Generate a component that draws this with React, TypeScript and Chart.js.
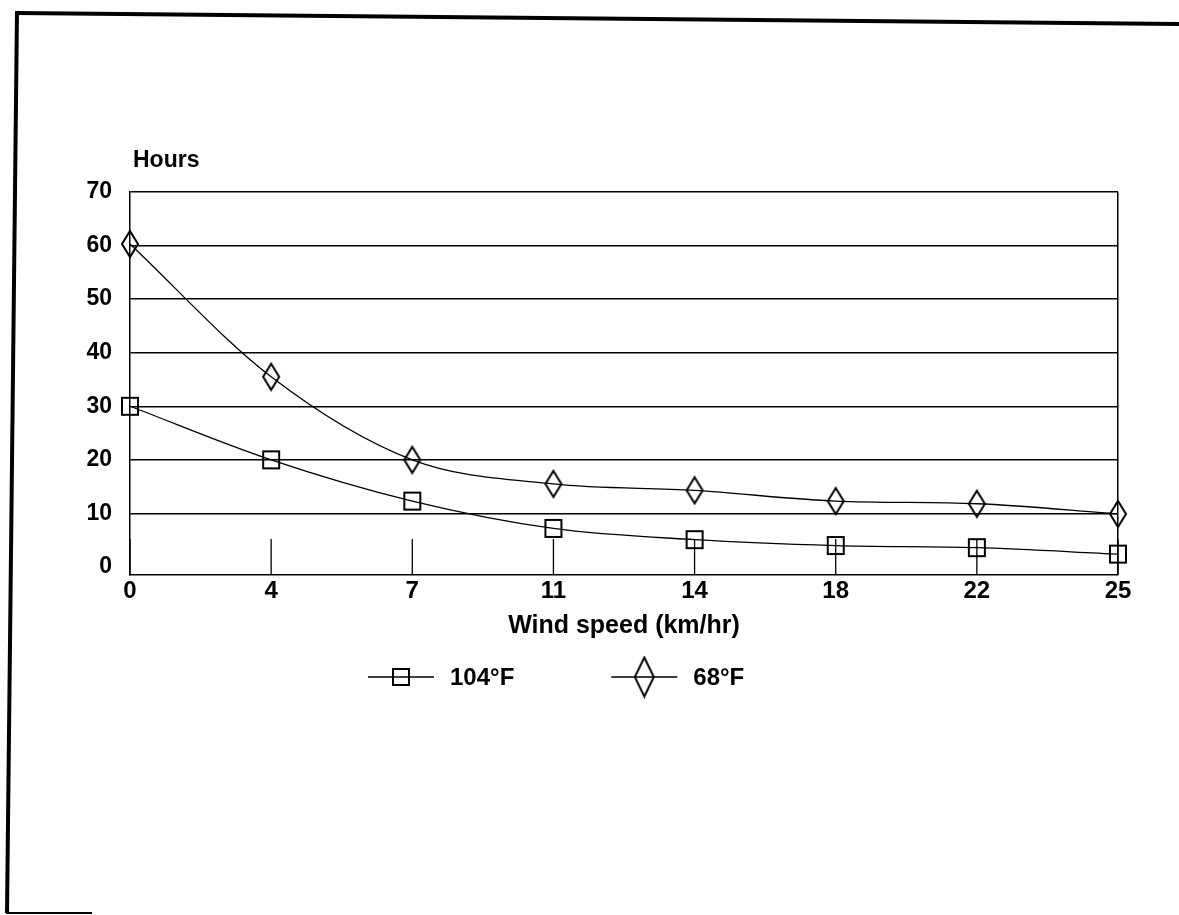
import React, { useEffect, useRef } from 'react';
import { Chart, registerables } from 'chart.js';

Chart.register(...registerables);

// ---- data ----
const windSpeedLabels = ['0', '4', '7', '11', '14', '18', '22', '25'];
const hours104F = [30, 20, 12.3, 7.2, 5.1, 4.0, 3.6, 2.4];
const hours68F = [60.3, 35.5, 20, 15.5, 14.3, 12.3, 11.8, 9.9];
const yTickValues = [0, 10, 20, 30, 40, 50, 60, 70];
const seriesNames = ['104°F', '68°F'];
const xAxisTitle = 'Wind speed (km/hr)';
const yAxisTitle = 'Hours';

const FONT = '"Liberation Sans", Arial, Helvetica, sans-serif';

function diamondImage(w: number, h: number, lw: number): HTMLCanvasElement {
  const c = document.createElement('canvas');
  c.width = Math.ceil(w + lw * 2);
  c.height = Math.ceil(h + lw * 2);
  const g = c.getContext('2d')!;
  const cx = c.width / 2;
  const cy = c.height / 2;
  g.strokeStyle = '#000';
  g.lineWidth = lw;
  g.beginPath();
  g.moveTo(cx, cy - h / 2);
  g.lineTo(cx + w / 2, cy);
  g.lineTo(cx, cy + h / 2);
  g.lineTo(cx - w / 2, cy);
  g.closePath();
  g.stroke();
  return c;
}

function squareImage(w: number, h: number, lw: number): HTMLCanvasElement {
  const c = document.createElement('canvas');
  c.width = Math.ceil(w + lw * 2);
  c.height = Math.ceil(h + lw * 2);
  const g = c.getContext('2d')!;
  g.strokeStyle = '#000';
  g.lineWidth = lw;
  g.strokeRect((c.width - w) / 2, (c.height - h) / 2, w, h);
  return c;
}

export default function App() {
  const canvasRef = useRef<HTMLCanvasElement | null>(null);

  useEffect(() => {
    const canvas = canvasRef.current;
    if (!canvas) return;

    const plotSquare = squareImage(16, 17, 2);
    const plotDiamond = diamondImage(16, 26, 2);
    const legendMarkers = [squareImage(16, 16, 2), diamondImage(19, 39, 2)];

    const scanFrame = {
      id: 'scanFrame',
      afterDraw(chart: any) {
        const ctx = chart.ctx;
        ctx.save();
        ctx.strokeStyle = '#000';
        ctx.lineWidth = 4;
        ctx.beginPath();
        ctx.moveTo(16, 13);
        ctx.lineTo(1179, 24);
        ctx.stroke();
        ctx.beginPath();
        ctx.moveTo(17, 11);
        ctx.lineTo(7, 913);
        ctx.stroke();
        ctx.lineWidth = 2;
        ctx.beginPath();
        ctx.moveTo(6, 913);
        ctx.lineTo(92, 913);
        ctx.stroke();
        ctx.restore();
      },
    };

    const innerTicks = {
      id: 'innerTicks',
      beforeDatasetsDraw(chart: any) {
        const ctx = chart.ctx;
        const xs = chart.scales.x;
        const bottom = chart.chartArea.bottom;
        ctx.save();
        ctx.strokeStyle = '#000';
        ctx.lineWidth = 1.3;
        ctx.beginPath();
        windSpeedLabels.forEach((_, i) => {
          const px = xs.getPixelForValue(i);
          ctx.moveTo(px, bottom);
          ctx.lineTo(px, bottom - 36);
        });
        ctx.stroke();
        ctx.restore();
      },
    };

    const unitLabel = {
      id: 'unitLabel',
      afterDraw(chart: any) {
        const ctx = chart.ctx;
        const { left, top } = chart.chartArea;
        ctx.save();
        ctx.fillStyle = '#000';
        ctx.font = `bold 23px ${FONT}`;
        ctx.textAlign = 'left';
        ctx.textBaseline = 'middle';
        ctx.fillText(yAxisTitle, left + 3, top - 31);
        ctx.restore();
      },
    };

    const lineLegend = {
      id: 'lineLegend',
      afterDraw(chart: any) {
        const ctx = chart.ctx;
        const { left, bottom } = chart.chartArea;
        const y = bottom + 102;
        const lineLen = 66;
        const textGap = 16;
        const itemGap = 97;
        let x = left + 238;
        ctx.save();
        ctx.font = `bold 24px ${FONT}`;
        ctx.textBaseline = 'middle';
        ctx.textAlign = 'left';
        ctx.fillStyle = '#000';
        ctx.strokeStyle = '#000';
        chart.data.datasets.forEach((ds: any, i: number) => {
          ctx.lineWidth = 1.4;
          ctx.beginPath();
          ctx.moveTo(x, y);
          ctx.lineTo(x + lineLen, y);
          ctx.stroke();
          const img = legendMarkers[i];
          ctx.drawImage(img, x + lineLen / 2 - img.width / 2, y - img.height / 2);
          const tx = x + lineLen + textGap;
          ctx.fillText(ds.label, tx, y + 1);
          x = tx + ctx.measureText(ds.label).width + itemGap;
        });
        ctx.restore();
      },
    };

    const lastIndex = windSpeedLabels.length - 1;

    const chart = new Chart(canvas, {
      type: 'line',
      data: {
        labels: windSpeedLabels,
        datasets: [
          {
            label: seriesNames[0],
            data: hours104F,
            borderColor: '#000',
            borderWidth: 1.3,
            pointStyle: plotSquare as any,
            pointRadius: 9,
            cubicInterpolationMode: 'monotone',
            fill: false,
            clip: false as any,
          },
          {
            label: seriesNames[1],
            data: hours68F,
            borderColor: '#000',
            borderWidth: 1.3,
            pointStyle: plotDiamond as any,
            pointRadius: 9,
            cubicInterpolationMode: 'monotone',
            fill: false,
            clip: false as any,
          },
        ],
      },
      options: {
        responsive: false,
        animation: false,
        events: [],
        layout: { padding: { left: 0, top: 192, right: 61, bottom: 274 } },
        plugins: {
          legend: { display: false },
          tooltip: { enabled: false },
          title: { display: false },
        },
        scales: {
          x: {
            type: 'category',
            offset: false,
            grid: {
              display: true,
              drawTicks: false,
              lineWidth: 1.5,
              color: (c: any) => (c.index === lastIndex ? '#000' : 'rgba(0,0,0,0)'),
            },
            border: { display: true, color: '#000', width: 1.5 },
            ticks: {
              color: '#000',
              font: { family: FONT, size: 24, weight: 'bold' },
              padding: 2,
              maxRotation: 0,
              autoSkip: false,
            },
            title: {
              display: true,
              text: xAxisTitle,
              color: '#000',
              font: { family: FONT, size: 25, weight: 'bold' },
              padding: { top: 0, bottom: 0 },
            },
            afterFit: (s: any) => {
              s.height = 66;
            },
          },
          y: {
            min: -1.5,
            max: 70,
            afterBuildTicks: (s: any) => {
              s.ticks = yTickValues.map((v) => ({ value: v }));
            },
            grid: {
              drawTicks: false,
              lineWidth: 1.5,
              color: (c: any) => (c.tick && c.tick.value === 0 ? 'rgba(0,0,0,0)' : '#000'),
            },
            border: { display: true, color: '#000', width: 1.5 },
            ticks: {
              color: '#000',
              font: { family: FONT, size: 23, weight: 'bold' },
              padding: 18,
            },
            afterFit: (s: any) => {
              s.width = 130;
            },
          },
        },
      },
      plugins: [innerTicks, unitLabel, lineLegend, scanFrame],
    });

    return () => {
      chart.destroy();
    };
  }, []);

  return (
    <div style={{ position: 'absolute', left: 0, top: 0, width: 1179, height: 915, background: '#fff' }}>
      <canvas ref={canvasRef} width={1179} height={915} style={{ display: 'block' }} />
    </div>
  );
}
